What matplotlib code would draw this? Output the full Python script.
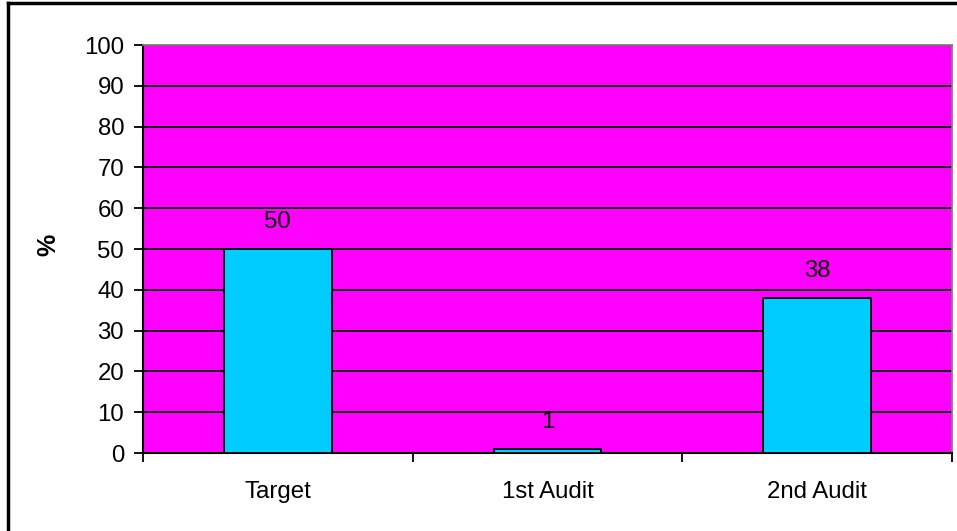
import matplotlib
matplotlib.use("Agg")
from matplotlib import pyplot as plt
from matplotlib.lines import Line2D

plt.rcParams['font.family'] = ['Liberation Sans', 'DejaVu Sans']

# データ
categories = ["Target", "1st Audit", "2nd Audit"]
values = [50, 1, 38]
yticks = [0, 10, 20, 30, 40, 50, 60, 70, 80, 90, 100]

fs = 17.3

fig = plt.figure(figsize=(9.57, 5.31), dpi=100)
ax = fig.add_axes([143 / 957, 1 - 453 / 531, (952 - 143) / 957, (453 - 45) / 531])
ax.set_facecolor("#FF00FF")

x = list(range(len(categories)))
ax.set_xlim(-0.5, len(categories) - 0.5)
ax.set_ylim(0, 100)
ax.set_yticks(yticks)
ax.yaxis.grid(True, color="black", linewidth=1.3)
ax.set_axisbelow(True)

ax.bar(x, values, width=0.4, color="#00CCFF", edgecolor="black", linewidth=1.3, zorder=3)
for xi, v in zip(x, values):
    ax.text(xi, v + 3.8, str(v), ha="center", va="bottom", fontsize=fs)

# 軸
ax.set_xticks([-0.5, 0.5, 1.5, 2.5])
ax.set_xticklabels([])
ax.set_xticks(x, minor=True)
ax.set_xticklabels(categories, minor=True, fontsize=fs)
ax.tick_params(axis="x", which="minor", length=0, pad=20)
ax.tick_params(axis="x", which="major", length=6.5, width=1.3, direction="out")
ax.tick_params(axis="y", length=6.5, width=1.3, direction="out", labelsize=fs, pad=7)

for s in ["top", "right"]:
    ax.spines[s].set_color("gray")
    ax.spines[s].set_linewidth(1.3)
for s in ["left", "bottom"]:
    ax.spines[s].set_color("black")
    ax.spines[s].set_linewidth(1.5)

fig.text(48 / 957, 1 - 245 / 531, "%", rotation=90, ha="center", va="center",
         fontsize=18, fontweight="bold")

# 外枠
fig.add_artist(Line2D([8 / 957, 8 / 957], [0, 1 - 3 / 531], color="black", linewidth=2.5))
fig.add_artist(Line2D([8 / 957, 1], [1 - 3 / 531, 1 - 3 / 531], color="black", linewidth=2.5))

fig.savefig("out.png", dpi=100)
